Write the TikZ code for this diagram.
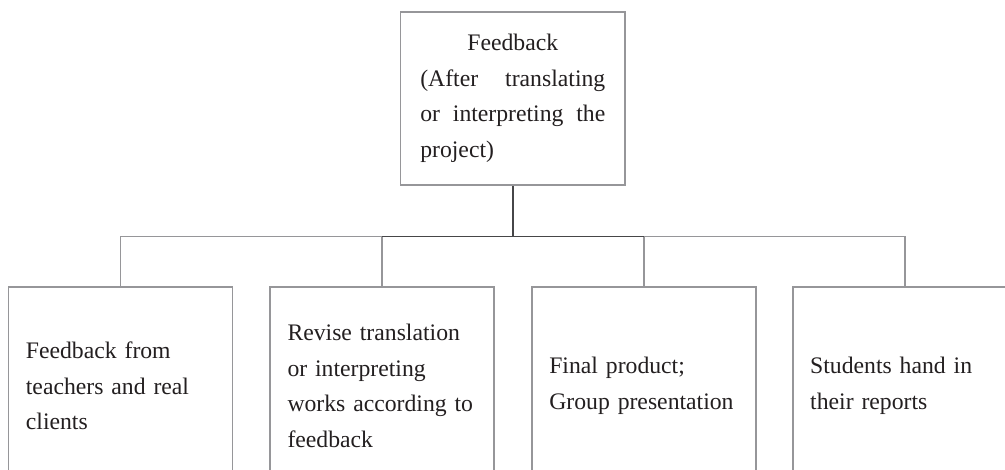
\documentclass[tikz,border=0pt]{standalone}
\usepackage{fontspec}
\setmainfont{Liberation Serif}
\definecolor{boxgray}{RGB}{150,150,153}
\definecolor{darkline}{RGB}{70,70,72}
\definecolor{txt}{RGB}{35,31,32}
\begin{document}
\begin{tikzpicture}[x=1pt,y=-1pt,
  every node/.style={font=\fontsize{23.7}{35.5}\selectfont, text=txt},
  topbox/.style={draw=boxgray, line width=1.6pt, minimum width=224.3pt, minimum height=173pt, inner xsep=0pt, inner ysep=0pt, align=center},
  lowbox/.style={draw=boxgray, line width=1.6pt, minimum width=224pt, minimum height=198pt, inner xsep=17.5pt, inner ysep=0pt, text width=189pt, align=left},
  lightconn/.style={draw=boxgray, line width=1.6pt},
  darkconn/.style={draw=darkline, line width=1.6pt}]
\useasboundingbox (0,0) rectangle (1005,470);
\clip (0,0) rectangle (1005,470);
\fill[white] (0,0) rectangle (1005,470);
\node[topbox] (top) at (512.8,98.5) {Feedback\\
\makebox[185pt][s]{(After translating}\\
\makebox[185pt][s]{or interpreting the}\\
\makebox[185pt][l]{project)}};
\node[lowbox] (b1) at (120.4,386) {Feedback from\\teachers and real\\clients};
\node[lowbox] (b2) at (382,386) {Revise translation\\or interpreting\\works according to\\feedback};
\node[lowbox] (b3) at (643.8,386) {Final product;\\Group presentation};
\node[lowbox] (b4) at (904.7,386) {Students hand in\\their reports};
\coordinate (bus) at (512.8,236.7);
\draw[lightconn] (b1.north) |- (b2.north |- bus);
\draw[lightconn] (b3.north |- bus) -| (b4.north);
\draw[lightconn] (b2.north) -- (b2.north |- bus);
\draw[lightconn] (b3.north) -- (b3.north |- bus);
\draw[darkconn] (b2.north |- bus) -- (b3.north |- bus);
\draw[darkconn] (top.south) -- (bus);
\end{tikzpicture}
\end{document}
